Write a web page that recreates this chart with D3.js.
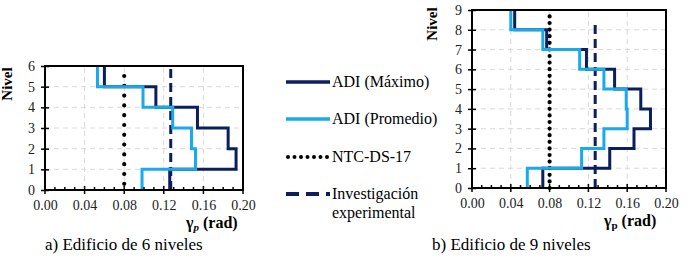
<!DOCTYPE html>
<html>
<head>
<meta charset="utf-8">
<script src="https://cdn.jsdelivr.net/npm/d3@7"></script>
<style>
  body { margin: 0; background: #fff; }
  svg text { font-family: "Liberation Serif", "Times New Roman", "DejaVu Serif", serif; }
  .grid line { stroke: #d9d9d9; stroke-dasharray: 5,4; }
</style>
</head>
<body>
<svg width="692" height="261"></svg>
<script>
// datos: valores por nivel (del nivel 1 hacia arriba)
const maxA = [0.126, 0.193, 0.185, 0.154, 0.112, 0.060];
const promA = [0.098, 0.152, 0.148, 0.129, 0.099, 0.053];
const maxB = [0.073, 0.142, 0.167, 0.184, 0.174, 0.147, 0.118, 0.077, 0.044];
const promB = [0.057, 0.113, 0.136, 0.160, 0.159, 0.136, 0.111, 0.073, 0.040];
const ntc = 0.08;
const experimental = 0.127;
const xTicks = [0.00, 0.04, 0.08, 0.12, 0.16, 0.20];
const legendLabels = ["ADI (Máximo)", "ADI (Promedio)", "NTC-DS-17", ["Investigación", "experimental"]];
const captions = ["a) Edificio de 6 niveles", "b) Edificio de 9 niveles"];

const darkBlue = "#0b1f5c", lightBlue = "#1aa9ea";
const serif = "'Liberation Serif', 'Times New Roman', 'DejaVu Serif', serif";
const svg = d3.select("svg");

// dibuja un panel
function panel(opt) {
    const x = d3.scaleLinear().domain([0, 0.2]).range([opt.x0, opt.x1]);
    const y = d3.scaleLinear().domain([0, opt.n]).range([opt.y0, opt.y1]);
    const g = svg.append("g");

    // rejilla
    const grid = g.append("g").attr("class", "grid");
    grid.selectAll(".gx").data(xTicks.slice(1, -1)).enter().append("line")
        .attr("x1", d => x(d)).attr("x2", d => x(d))
        .attr("y1", y(0)).attr("y2", y(opt.n));
    grid.selectAll(".gy").data(d3.range(1, opt.n)).enter().append("line")
        .attr("x1", x(0)).attr("x2", x(0.2))
        .attr("y1", d => y(d)).attr("y2", d => y(d));

    // escalones
    const stepPts = vals => vals.flatMap((v, i) => [[v, i], [v, i + 1]]);
    const line = d3.line().x(d => x(d[0])).y(d => y(d[1]));

    g.append("path").datum([[opt.exp, 0], [opt.exp, opt.expTop]])
        .attr("d", line).attr("fill", "none")
        .attr("stroke", darkBlue).attr("stroke-width", 3)
        .attr("stroke-dasharray", "9,5");
    g.append("path").datum([[ntc, opt.dotBot], [ntc, opt.dotTop]])
        .attr("d", line).attr("fill", "none")
        .attr("stroke", "#000").attr("stroke-width", 4.2)
        .attr("stroke-linecap", "round")
        .attr("stroke-dasharray", `0,${opt.dotGap}`);
    g.append("path").datum(stepPts(opt.max))
        .attr("d", line).attr("fill", "none")
        .attr("stroke", darkBlue).attr("stroke-width", 3);
    g.append("path").datum(stepPts(opt.prom))
        .attr("d", line).attr("fill", "none")
        .attr("stroke", lightBlue).attr("stroke-width", 3);

    // ejes
    const xAxis = g.append("g").attr("transform", `translate(0,${y(0)})`)
        .call(d3.axisBottom(x).tickValues(xTicks).tickFormat(d3.format(".2f")).tickSize(0).tickPadding(10));
    xAxis.attr("font-family", serif).attr("font-size", 14);
    xAxis.select(".domain").remove();
    xAxis.selectAll("text").attr("fill", "#222");
    g.append("g").selectAll("line").data(d3.range(0, 0.2001, 0.01)).enter().append("line")
        .attr("x1", d => x(d)).attr("x2", d => x(d))
        .attr("y1", d => y(0) - (Math.round(d * 100) % 4 === 0 ? 4 : 3))
        .attr("y2", d => y(0) + (Math.round(d * 100) % 4 === 0 ? 4 : 0))
        .attr("stroke", "#000").attr("stroke-width", 1.5);

    const yAxis = g.append("g").attr("transform", `translate(${x(0)},0)`)
        .call(d3.axisLeft(y).ticks(opt.n).tickSizeInner(4).tickSizeOuter(0).tickPadding(6));
    yAxis.attr("font-family", serif).attr("font-size", 14);
    yAxis.select(".domain").remove();
    yAxis.selectAll(".tick line").attr("x2", 4).attr("x1", -4).attr("stroke-width", 1.5);
    yAxis.selectAll("text").attr("fill", "#222");

    // marco
    g.append("rect").attr("x", x(0)).attr("y", y(opt.n))
        .attr("width", x(0.2) - x(0)).attr("height", y(0) - y(opt.n))
        .attr("fill", "none").attr("stroke", "#000").attr("stroke-width", 2);

    // títulos
    g.append("text").attr("transform", `translate(${opt.nivelX},${opt.nivelY}) rotate(-90)`)
        .attr("text-anchor", "middle").attr("font-weight", "bold").attr("font-size", 15)
        .attr("font-family", serif).text("Nivel");
    const xl = g.append("text").attr("x", opt.gx).attr("y", opt.gy)
        .attr("font-weight", "bold").attr("font-size", 16).attr("font-family", serif);
    xl.append("tspan").text("γ");
    xl.append("tspan").attr("font-size", 11).attr("dy", 3)
        .attr("font-style", opt.italic ? "italic" : "normal").text("p");
    xl.append("tspan").attr("dy", -3).text(" (rad)");
    g.append("text").attr("x", opt.cx).attr("y", 250).attr("font-size", 17)
        .attr("font-family", serif).text(opt.caption);
}

panel({ x0: 45, x1: 243, y0: 190, y1: 66, n: 6, max: maxA, prom: promA,
    exp: experimental, expTop: 6, dotBot: 0.3, dotTop: 5.8, dotGap: 9.8,
    nivelX: 12, nivelY: 84, gx: 186, gy: 228, italic: true, cx: 45, caption: captions[0] });
panel({ x0: 472, x1: 666, y0: 188, y1: 10, n: 9, max: maxB, prom: promB,
    exp: experimental, expTop: 8.3, dotBot: 0, dotTop: 9, dotGap: 6.6,
    nivelX: 437, nivelY: 24, gx: 604, gy: 226, italic: false, cx: 432, caption: captions[1] });

// leyenda
const legendY = [82, 119, 157, 194];
const lg = svg.append("g");
const styles = [
    { stroke: darkBlue, dash: null, w: 3.5 },
    { stroke: lightBlue, dash: null, w: 3.5 },
    { stroke: "#000", dash: "0,6.5", w: 4, cap: "round" },
    { stroke: darkBlue, dash: "13,7", w: 4 }
];
legendLabels.forEach((lab, i) => {
    const s = styles[i];
    const x1 = i === 2 ? 288 : 286;
    lg.append("line").attr("x1", x1).attr("x2", 330)
        .attr("y1", legendY[i]).attr("y2", legendY[i])
        .attr("stroke", s.stroke).attr("stroke-width", s.w)
        .attr("stroke-dasharray", s.dash).attr("stroke-linecap", s.cap || "butt");
    const t = lg.append("text").attr("x", 332).attr("y", legendY[i] + 5)
        .attr("font-size", 16).attr("font-family", serif);
    if (Array.isArray(lab)) {
        t.append("tspan").attr("x", 332).text(lab[0]);
        t.append("tspan").attr("x", 332).attr("dy", 19).text(lab[1]);
    } else {
        t.text(lab);
    }
});
</script>
</body>
</html>
